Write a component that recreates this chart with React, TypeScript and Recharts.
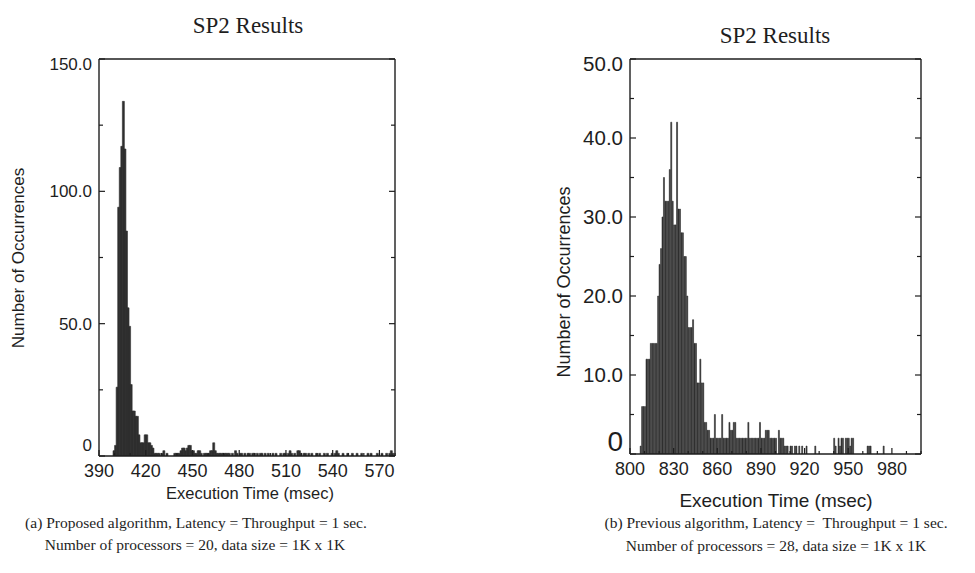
import React from "react";
import { BarChart, Bar, XAxis, YAxis } from "recharts";

// counts per 1 msec bin, rows of 10 starting at the commented value
const LEFT_START = 390;
const leftCounts = [
  /* 390 */ 0, 0, 0, 0, 0, 0, 0, 0, 0, 2,
  /* 400 */ 4, 26, 94, 109, 117, 134, 116, 85, 56, 49,
  /* 410 */ 27, 17, 17, 15, 15, 8, 5, 5, 5, 8,
  /* 420 */ 8, 5, 5, 4, 3, 1, 1, 1, 1, 0,
  /* 430 */ 1, 2, 0, 1, 0, 0, 0, 0, 1, 1,
  /* 440 */ 1, 1, 2, 3, 3, 2, 3, 4, 4, 2,
  /* 450 */ 2, 1, 1, 2, 2, 1, 0, 1, 1, 1,
  /* 460 */ 1, 2, 2, 5, 2, 1, 1, 1, 1, 1,
  /* 470 */ 1, 1, 1, 1, 0, 1, 0, 2, 1, 0,
  /* 480 */ 1, 1, 0, 1, 0, 1, 1, 0, 1, 1,
  /* 490 */ 0, 1, 0, 1, 1, 0, 1, 0, 1, 0,
  /* 500 */ 0, 1, 0, 1, 0, 0, 1, 0, 1, 1,
  /* 510 */ 0, 1, 2, 1, 0, 1, 0, 2, 2, 1,
  /* 520 */ 0, 1, 1, 0, 1, 0, 1, 0, 0, 1,
  /* 530 */ 0, 1, 0, 0, 1, 0, 1, 0, 0, 1,
  /* 540 */ 0, 1, 2, 1, 0, 0, 1, 0, 0, 1,
  /* 550 */ 0, 0, 1, 0, 0, 1, 0, 0, 1, 0,
  /* 560 */ 0, 0, 1, 0, 1, 0, 0, 0, 1, 0,
  /* 570 */ 0, 1, 0, 0, 1, 0, 1, 2, 1, 0,
];

const RIGHT_START = 800;
const rightCounts = [
  /* 800 */ 0, 0, 0, 0, 0, 0, 0, 1, 6, 6,
  /* 810 */ 6, 12, 12, 12, 14, 14, 14, 14, 14, 20,
  /* 820 */ 24, 26, 30, 35, 32, 32, 32, 36, 42, 32,
  /* 830 */ 29, 29, 42, 31, 31, 28, 28, 25, 25, 20,
  /* 840 */ 16, 16, 16, 17, 14, 14, 9, 9, 12, 9,
  /* 850 */ 9, 4, 4, 3, 3, 2, 2, 2, 5, 2,
  /* 860 */ 2, 2, 2, 5, 2, 2, 2, 2, 4, 3,
  /* 870 */ 3, 4, 4, 2, 2, 2, 2, 2, 2, 2,
  /* 880 */ 2, 4, 2, 2, 2, 2, 2, 2, 2, 4,
  /* 890 */ 2, 2, 2, 3, 3, 3, 2, 2, 2, 2,
  /* 900 */ 2, 0, 3, 2, 2, 2, 1, 1, 1, 0,
  /* 910 */ 1, 1, 0, 1, 1, 0, 1, 0, 1, 0,
  /* 920 */ 0, 1, 0, 0, 0, 0, 0, 1, 0, 0,
  /* 930 */ 0, 0, 0, 0, 0, 0, 0, 0, 0, 0,
  /* 940 */ 2, 1, 0, 2, 1, 2, 2, 0, 2, 2,
  /* 950 */ 2, 1, 2, 2, 0, 0, 0, 0, 0, 0,
  /* 960 */ 0, 0, 0, 1, 1, 1, 0, 0, 0, 0,
  /* 970 */ 0, 0, 0, 0, 1, 0, 0, 0, 0, 0,
];

const leftXTicks = [390, 400, 410, 420, 430, 440, 450, 460, 470, 480, 490, 500, 510, 520, 530, 540, 550, 560, 570, 580];
const leftXLabels = [390, 420, 450, 480, 510, 540, 570];
const leftYTicks = [0, 25, 50, 75, 100, 125, 150];
const leftYLabels = [0, 50, 100, 150];

const rightXTicks = [800, 810, 820, 830, 840, 850, 860, 870, 880, 890, 900, 910, 920, 930, 940, 950, 960, 970, 980, 990, 1000];
const rightXLabels = [800, 830, 860, 890, 920, 950, 980];
const rightYTicks = [0, 5, 10, 15, 20, 25, 30, 35, 40, 45, 50];
const rightYLabels = [0, 10, 20, 30, 40, 50];

const SANS = "'Liberation Sans', Arial, sans-serif";
const SERIF = "'Liberation Serif', 'Times New Roman', serif";
const INK = "#1e1e1e";
const BAR = "#2f2f2f";

const fmtY = (v: number) => (v === 0 ? "0" : v.toFixed(1));

function bottomTick(labels: number[], fontSize: number) {
  return (p: any) => {
    const v = p.payload.value;
    const major = labels.includes(v);
    return (
      <g>
        <line x1={p.x} x2={p.x} y1={p.y} y2={p.y - (major ? 6 : 3)} stroke={INK} strokeWidth={1.2} />
        {major && (
          <text x={p.x} y={p.y + 21} textAnchor="middle" fontSize={fontSize} fontFamily={SANS} fill={INK}>
            {v}
          </text>
        )}
      </g>
    );
  };
}

function topTick(labels: number[]) {
  return (p: any) => {
    const major = labels.includes(p.payload.value);
    return <line x1={p.x} x2={p.x} y1={p.y} y2={p.y + (major ? 6 : 3)} stroke={INK} strokeWidth={1.2} />;
  };
}

function leftTick(labels: number[], fontSize: number, max: number, zeroLift: number, zeroFont: number) {
  return (p: any) => {
    const v = p.payload.value;
    const major = labels.includes(v);
    const shift = v === max ? 5 : v === 0 ? -zeroLift : 0;
    const fs = v === 0 ? zeroFont : fontSize;
    return (
      <g>
        <line x1={p.x} x2={p.x + (major ? 6 : 4)} y1={p.y} y2={p.y} stroke={INK} strokeWidth={1.2} />
        {major && (
          <text x={p.x - 7} y={p.y + shift + fs * 0.36} textAnchor="end" fontSize={fs} fontFamily={SANS} fill={INK}>
            {fmtY(v)}
          </text>
        )}
      </g>
    );
  };
}

function rightTick(labels: number[]) {
  return (p: any) => {
    const major = labels.includes(p.payload.value);
    return <line x1={p.x} x2={p.x - (major ? 6 : 4)} y1={p.y} y2={p.y} stroke={INK} strokeWidth={1.2} />;
  };
}

const axisLine = { stroke: INK, strokeWidth: 1.4 };

function Histogram({
  data, xDomain, xTicks, xLabels, yDomain, yTicks, yLabels, margin, width, height, yFont, xFont, zeroLift, zeroFont, xHeight,
}: any) {
  return (
    <BarChart width={width} height={height} data={data} margin={margin} barCategoryGap={0} barGap={0}>
      <XAxis xAxisId="b" type="number" dataKey="t" domain={xDomain} ticks={xTicks} interval={0}
        allowDataOverflow tickLine={false} tickSize={0} tickMargin={0} height={xHeight}
        axisLine={axisLine} tick={bottomTick(xLabels, xFont)} />
      <XAxis xAxisId="t" orientation="top" type="number" domain={xDomain} ticks={xTicks} interval={0}
        allowDataOverflow tickLine={false} tickSize={0} tickMargin={0} height={1}
        axisLine={axisLine} tick={topTick(xLabels)} />
      <YAxis yAxisId="l" type="number" domain={yDomain} ticks={yTicks} interval={0}
        allowDataOverflow tickLine={false} tickSize={0} tickMargin={0} width={60}
        axisLine={axisLine} tick={leftTick(yLabels, yFont, yDomain[1], zeroLift, zeroFont)} />
      <YAxis yAxisId="r" orientation="right" type="number" domain={yDomain} ticks={yTicks} interval={0}
        allowDataOverflow tickLine={false} tickSize={0} tickMargin={0} width={1}
        axisLine={axisLine} tick={rightTick(yLabels)} />
      <Bar xAxisId="b" yAxisId="l" dataKey="n" fill={BAR} stroke={BAR} strokeWidth={0.6} isAnimationActive={false} />
    </BarChart>
  );
}

const textAt = (cx: number, cy: number, extra: React.CSSProperties = {}): React.CSSProperties => ({
  position: "absolute",
  left: cx,
  top: cy,
  transform: "translate(-50%, -50%)",
  whiteSpace: "nowrap",
  color: INK,
  lineHeight: 1,
  ...extra,
});

export default function App() {
  const leftData = leftCounts.map((n, i) => ({ t: LEFT_START + i + 0.5, n }));
  const rightData = rightCounts.map((n, i) => ({ t: RIGHT_START + i + 0.5, n }));

  return (
    <div style={{ position: "absolute", left: 0, top: 0, width: 975, height: 573, background: "#fff", overflow: "hidden" }}>
      <div style={{ position: "absolute", left: 0, top: 0 }}>
        <Histogram
          data={leftData} width={420} height={480}
          margin={{ top: 58, right: 24, bottom: 0, left: 39 }}
          xDomain={[390, 580]} xTicks={leftXTicks} xLabels={leftXLabels}
          yDomain={[0, 150]} yTicks={leftYTicks} yLabels={leftYLabels}
          yFont={17} xFont={18} zeroLift={11} zeroFont={17} xHeight={24}
        />
      </div>
      <div style={{ position: "absolute", left: 520, top: 0 }}>
        <Histogram
          data={rightData} width={455} height={480}
          margin={{ top: 58, right: 53, bottom: 0, left: 50 }}
          xDomain={[800, 1000]} xTicks={rightXTicks} xLabels={rightXLabels}
          yDomain={[0, 50]} yTicks={rightYTicks} yLabels={rightYLabels}
          yFont={20.5} xFont={18} zeroLift={13} zeroFont={28} xHeight={26}
        />
      </div>

      <div style={textAt(248, 25, { fontFamily: SERIF, fontSize: 23 })}>SP2 Results</div>
      <div style={textAt(775, 35, { fontFamily: SERIF, fontSize: 23 })}>SP2 Results</div>

      <div style={textAt(18, 258, { fontFamily: SANS, fontSize: 17, transform: "translate(-50%, -50%) rotate(-90deg)" })}>
        Number of Occurrences
      </div>
      <div style={textAt(564, 282, { fontFamily: SANS, fontSize: 18, transform: "translate(-50%, -50%) rotate(-90deg)" })}>
        Number of Occurrences
      </div>

      <div style={textAt(250, 493, { fontFamily: SANS, fontSize: 16.5 })}>Execution Time (msec)</div>
      <div style={textAt(776, 500, { fontFamily: SANS, fontSize: 19 })}>Execution Time (msec)</div>

      <div style={textAt(196, 523, { fontFamily: SERIF, fontSize: 15.5 })}>
        (a) Proposed algorithm, Latency = Throughput = 1 sec.
      </div>
      <div style={textAt(195, 545, { fontFamily: SERIF, fontSize: 15.5 })}>
        Number of processors = 20, data size = 1K x 1K
      </div>
      <div style={textAt(776, 523, { fontFamily: SERIF, fontSize: 15.5 })}>
        (b) Previous algorithm, Latency =&nbsp; Throughput = 1 sec.
      </div>
      <div style={textAt(776, 546, { fontFamily: SERIF, fontSize: 15.5 })}>
        Number of processors = 28, data size = 1K x 1K
      </div>
    </div>
  );
}
